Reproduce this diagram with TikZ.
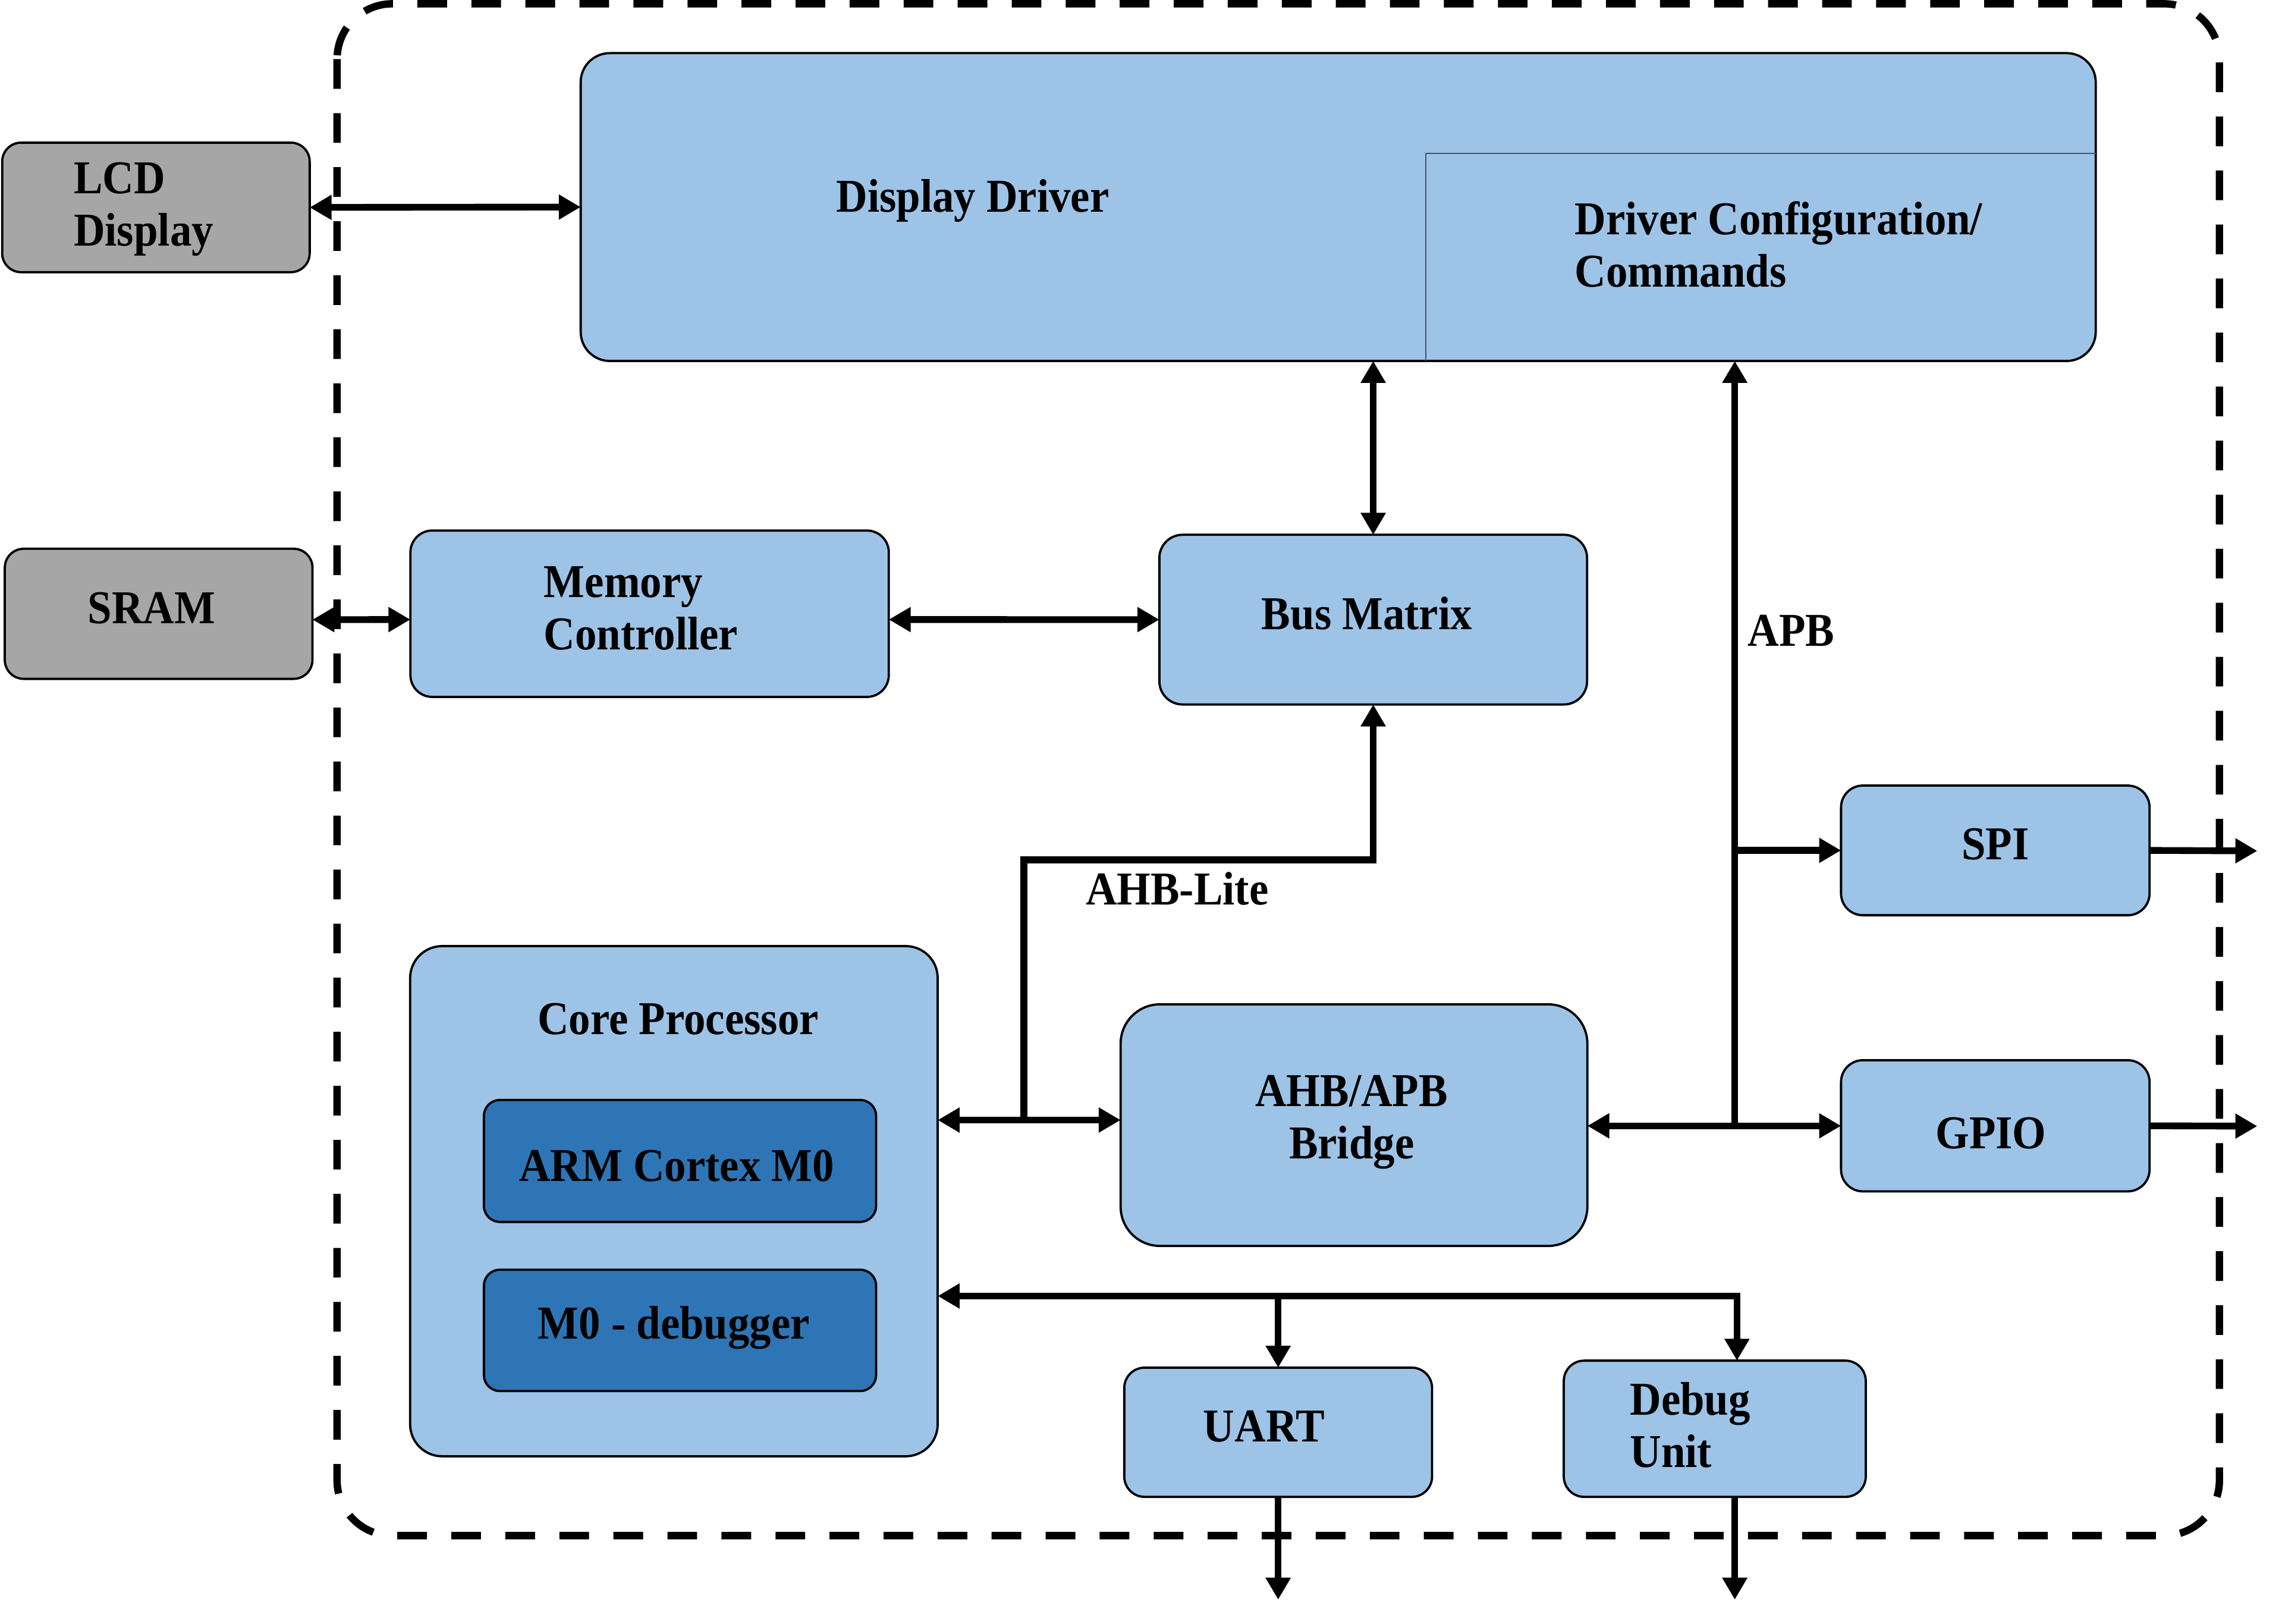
\documentclass[tikz,border=0pt]{standalone}
\usepackage{fontspec}
\setmainfont{Liberation Serif}[FakeStretch=0.92]
\usetikzlibrary{arrows.meta}
\definecolor{lb}{HTML}{9DC3E6}
\definecolor{db}{HTML}{2E75B6}
\definecolor{gr}{HTML}{A6A6A6}
\definecolor{divc}{HTML}{44546A}
\newcommand\mkbox[7]{\node[blk,fill=#6,rounded corners=#7,minimum width={(#4-#2)*0.025cm},minimum height={(#5-#3)*0.025cm}] (#1) at ({(#2+#4)/2},{(#3+#5)/2}) {};}
\newcommand\twol[2]{\vtop{\hbox{#1}\hbox{#2}}}
\newcommand\twoc[2]{\vtop{\halign{\hfil##\hfil\cr #1\cr #2\cr}}}
\tikzset{
  blk/.style={draw=black,line width=1.1pt,inner sep=0pt,outer sep=0pt,rectangle},
  lbl/.style={inner sep=0pt,outer sep=0pt},
  ln/.style={line width=3.3pt},
  arr/.style={ln,->},
  dbl/.style={ln,<->},
  frame/.style={line width=3.6pt,dash pattern=on 14.5pt off 11.9pt,rounded corners=0.95cm},
}
\begin{document}
\begin{tikzpicture}[x=0.025cm,y=-0.025cm,>={Triangle[length=10.7pt,width=11.6pt]},
  font=\fontsize{23}{25.6}\selectfont\bfseries]
\useasboundingbox (0,0) rectangle (1568,1115.7);
% outer dashed frame
\draw[frame] (231.6,2.6) rectangle (1525,1055);
% boxes
\mkbox{lcd}{1.5}{98}{212.8}{187}{gr}{0.325cm}
\mkbox{sram}{3.3}{377}{214.7}{466.4}{gr}{0.325cm}
\mkbox{drv}{399}{36.5}{1440}{248}{lb}{0.5cm}
\mkbox{memc}{282}{364.5}{610.7}{478.8}{lb}{0.375cm}
\mkbox{bus}{796.6}{367.4}{1090.5}{484}{lb}{0.4cm}
\mkbox{spi}{1265}{539.7}{1477}{628.8}{lb}{0.375cm}
\mkbox{gpio}{1265}{728.4}{1477}{818.5}{lb}{0.375cm}
\mkbox{bridge}{770}{690}{1090.7}{856}{lb}{0.675cm}
\mkbox{core}{281.8}{650}{644.3}{1000.5}{lb}{0.55cm}
\mkbox{arm}{332.5}{755.7}{602}{839.5}{db}{0.275cm}
\mkbox{mdbg}{332.5}{872.3}{602}{955.7}{db}{0.275cm}
\mkbox{uart}{772.5}{939.6}{984}{1028.4}{lb}{0.35cm}
\mkbox{dbg}{1074.5}{934.8}{1282}{1028.4}{lb}{0.35cm}
% divider inside display driver
\coordinate (dv) at (979.6,105.5);
\draw[line width=0.6pt,draw=divc] (dv |- drv.south) -- (dv) -- (dv -| drv.east);
% texts
\node[lbl,anchor=base west] (lcdT) at (50.7,132.8) {\twol{LCD}{Display}};
\node[lbl,anchor=base west] (sramT) at (60.4,428.5) {SRAM};
\node[lbl,anchor=base west] (drvT) at (574.6,145.7) {Display Driver};
\node[lbl,anchor=base west] (cfgT) at (1082,161) {\twol{Driver Configuration/}{Commands}};
\node[lbl,anchor=base west] (memcT) at (373.8,410.3) {\twol{Memory}{Controller}};
\node[lbl,anchor=base west] (busT) at (866.9,432.3) {Bus Matrix};
\node[lbl,anchor=base] (spiT) at (1371,590.4) {SPI};
\node[lbl,anchor=base] (gpioT) at (1368,789) {GPIO};
\node[lbl,anchor=base] (bridgeT) at (928.7,760) {\twoc{AHB/APB}{Bridge}};
\node[lbl,anchor=base] (coreT) at (466,710.8) {Core Processor};
\node[lbl,anchor=base] (armT) at (465,811.6) {ARM Cortex M0};
\node[lbl,anchor=base] (mdbgT) at (463,919.7) {M0 - debugger};
\node[lbl,anchor=base] (uartT) at (868.5,990.6) {UART};
\node[lbl,anchor=base west] (dbgT) at (1120,972) {\twol{Debug}{Unit}};
\node[lbl,anchor=base west] (ahbT) at (746,621.7) {AHB-Lite};
\node[lbl,anchor=base west] (apbT) at (1201,444) {APB};
% junction coordinates
\coordinate (j1) at (703.5,769.5);
\coordinate (k1) at (703.5,590.8);
\coordinate (j2) at (1192,773.5);
\coordinate (j3) at (1193.5,890.4);
\coordinate (so) at (1551,584.6);
\coordinate (go) at (1551,773.7);
\coordinate (uo) at (876,1099);
\coordinate (do) at (1192,1099);
% connectors
\draw[dbl] (lcd.east) -- (drv.west);
\draw[dbl] ([yshift=-0.1cm]sram.east) -- ([yshift=-0.1cm]memc.west);
\draw[dbl] ([yshift=-0.1cm]memc.east) -- (bus.west);
\draw[dbl] (bus.north) -- (bus.north |- drv.south);
\draw[dbl] (core.east |- j1) -- (bridge.west |- j1);
\draw[arr] (j1) -- (k1) -| (bus.south);
\draw[arr] (j2) -- (j2 |- drv.south);
\draw[dbl] (bridge.east |- j2) -- (gpio.west |- j2);
\draw[arr] (j2 |- spi.west) -- (spi.west);
\draw[arr] (spi.east) -- (so);
\draw[arr] (gpio.east) -- (go);
\draw[dbl] (core.east |- j3) -- (j3) -- (j3 |- dbg.north);
\draw[arr] (uart.north |- j3) -- (uart.north);
\draw[arr] (uart.south) -- (uart.south |- uo);
\draw[arr] (do |- dbg.south) -- (do);
\end{tikzpicture}
\end{document}
